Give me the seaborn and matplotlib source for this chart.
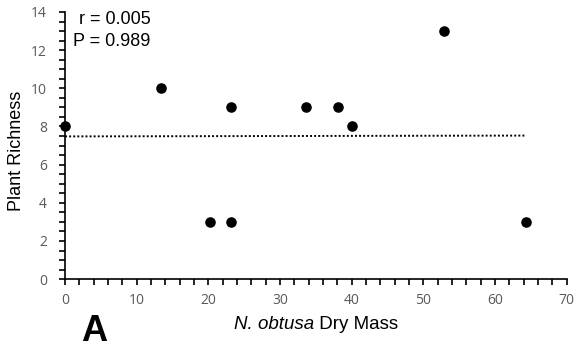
import numpy as np
import pandas as pd
import matplotlib
matplotlib.use("Agg")
import matplotlib.pyplot as plt
from matplotlib.ticker import MultipleLocator
import seaborn as sns

# data
dry_mass = [0.0, 13.4, 20.2, 23.2, 23.2, 33.6, 38.1, 40.1, 52.9, 64.3]
richness = [8, 10, 3, 3, 9, 9, 9, 8, 13, 3]
stats_text = ["r = 0.005", "P = 0.989"]

df = pd.DataFrame({"mass": dry_mass, "rich": richness})

sns.set_style("ticks")
plt.rcParams["font.family"] = ["Liberation Sans", "DejaVu Sans"]
plt.rcParams["text.color"] = "black"
plt.rcParams["axes.labelcolor"] = "black"

fig = plt.figure(figsize=(5.76, 3.52), dpi=100)
ax = fig.add_axes([0.113, 0.207, 0.871, 0.759])

sns.scatterplot(data=df, x="mass", y="rich", color="black", s=58,
                edgecolor="black", linewidth=0, ax=ax, zorder=3, clip_on=False)

# linear trend line (dotted), over the data range
slope, intercept = np.polyfit(df["mass"], df["rich"], 1)
xs = np.array([df["mass"].min(), df["mass"].max()])
ax.plot(xs, intercept + slope * xs, color="black", linestyle=(0, (1, 1.1)),
        linewidth=1.4, zorder=2)

ax.set_xlim(0, 70)
ax.set_ylim(0, 14)
ax.xaxis.set_major_locator(MultipleLocator(10))
ax.xaxis.set_minor_locator(MultipleLocator(2))
ax.yaxis.set_major_locator(MultipleLocator(2))
ax.yaxis.set_minor_locator(MultipleLocator(0.5))
ax.tick_params(which="both", direction="out", length=4, width=1.2, color="black")
ax.tick_params(axis="y", which="major", pad=9)
ax.tick_params(axis="x", which="major", pad=6)
ax.tick_params(which="major", labelsize=10, labelcolor="#595959")
for lab in ax.get_xticklabels() + ax.get_yticklabels():
    lab.set_family(["Open Sans", "DejaVu Sans"])

for side in ["top", "right"]:
    ax.spines[side].set_visible(False)
for side in ["left", "bottom"]:
    ax.spines[side].set_linewidth(1.2)
    ax.spines[side].set_color("black")

ax.set_xlabel("")
fig.text(0.545, 0.077, "N. obtusa", fontsize=13.5, style="italic", ha="right", va="center")
fig.text(0.545, 0.077, " Dry Mass", fontsize=13.5, ha="left", va="center")
ax.set_ylabel("Plant Richness", fontsize=13, color="black")
ax.yaxis.set_label_coords(-0.08, 0.48)

ax.text(0.027, 1.005, stats_text[0], transform=ax.transAxes, fontsize=13, ha="left", va="top")
ax.text(0.016, 0.92, stats_text[1], transform=ax.transAxes, fontsize=13, ha="left", va="top")

fig.text(0.163, 0.058, "A", fontsize=26, fontweight="bold", ha="center", va="center")

fig.savefig("out.png", dpi=100)
